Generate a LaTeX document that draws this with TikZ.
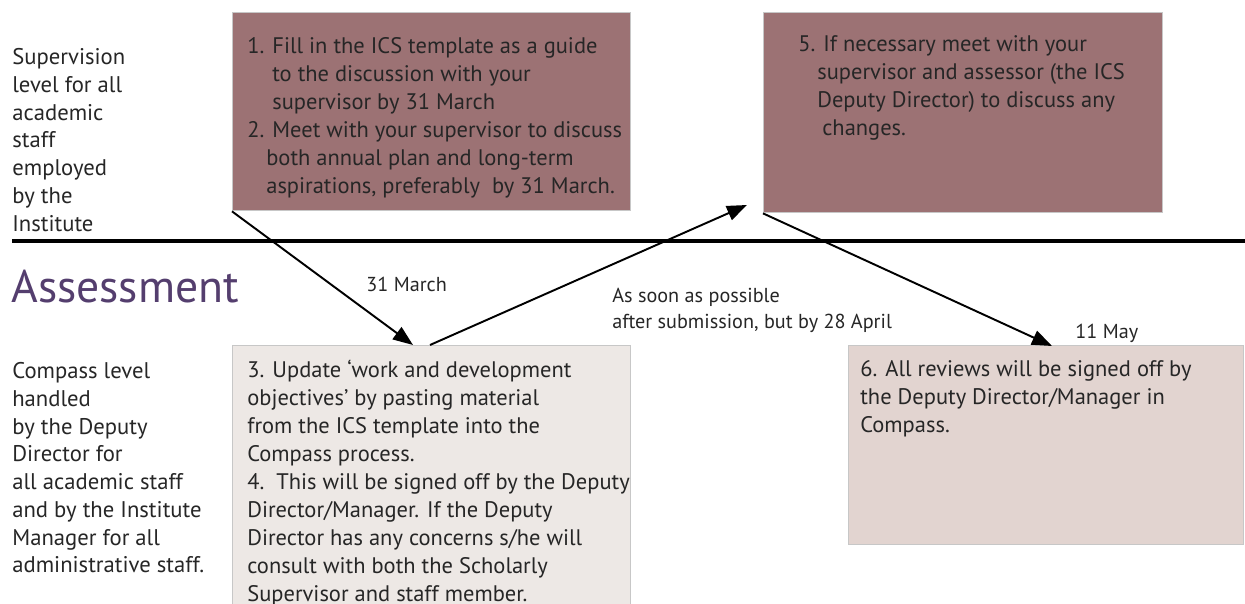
\documentclass[tikz,border=0pt]{standalone}
\usepackage{fontspec}
\setmainfont{PT Sans}
\usetikzlibrary{positioning}
\usetikzlibrary{arrows.meta}

\definecolor{mauve}{RGB}{156,114,116}
\definecolor{paleGrey}{RGB}{237,232,229}
\definecolor{paleRose}{RGB}{226,212,208}
\definecolor{assessPurple}{RGB}{84,62,110}

\begin{document}
\begin{tikzpicture}[x=0.02cm, y=-0.02cm,
    TopBox/.style={rectangle, draw=black!22, fill=mauve, line width=0.8pt, anchor=north west, inner sep=0pt},
    LowBox/.style={rectangle, draw=black!22, line width=0.8pt, anchor=north west, inner sep=0pt},
    BoxText/.style={anchor=north west, align=left, inner sep=0pt, text=black!85, font=\fontsize{12.8}{15.9}\selectfont},
    SideText/.style={anchor=north west, align=left, inner sep=0pt, text=black!85, font=\fontsize{12.9}{15.8}\selectfont},
    DateText/.style={anchor=west, align=left, inner sep=0pt, text=black!85, font=\fontsize{11.5}{14.7}\selectfont},
    Flow/.style={-{Triangle[length=4mm, width=3mm]}, line width=1.1pt}]

    \useasboundingbox (0,0) rectangle (1245,604);

    % boxes
    \node[TopBox, minimum width=7.96cm, minimum height=3.96cm] (plan) at (232,12) {};
    \node[TopBox, minimum width=7.98cm, minimum height=4.0cm] (meet) at (763,12) {};
    \node[LowBox, fill=paleGrey, minimum width=7.96cm, minimum height=5.6cm] (update) at (232,345) {};
    \node[LowBox, fill=paleRose, minimum width=7.9cm, minimum height=3.98cm] (signoff) at (848,345) {};

    % box texts
    \node[BoxText, below right=0.5cm and 0.3cm of plan.north west] (planText)
        {1. Fill in the ICS template as a guide\\
         \hspace{0.5cm}to the discussion with your\\
         \hspace{0.5cm}supervisor by 31 March\\
         2. Meet with your supervisor to discuss\\
         \hspace{0.38cm}both annual plan and long-term\\
         \hspace{0.38cm}aspirations, preferably\ \ by 31 March.};
    \node[BoxText, below right=0.46cm and 0.7cm of meet.north west] (meetText)
        {5. If necessary meet with your\\
         \hspace{0.38cm}supervisor and assessor (the ICS\\
         \hspace{0.38cm}Deputy Director) to discuss any\\
         \hspace{0.48cm}changes.};
    \node[BoxText, below right=0.3cm and 0.3cm of update.north west] (updateText)
        {3. Update `work and development\\
         objectives' by pasting material\\
         from the ICS template into the\\
         Compass process.\\
         4.\ \ This will be signed off by the Deputy\\
         Director/Manager. If the Deputy\\
         Director has any concerns s/he will\\
         consult with both the Scholarly\\
         Supervisor and staff member.};
    \node[BoxText, below right=0.3cm and 0.24cm of signoff.north west] (signoffText)
        {6. All reviews will be signed off by\\
         the Deputy Director/Manager in\\
         Compass.};

    % level descriptions
    \node[SideText] (supLevel) at (12,48)
        {Supervision\\ level for all\\ academic\\ staff\\ employed\\ by the\\ Institute};
    \node[SideText] (compLevel) at (12,362)
        {Compass level\\ handled\\ by the Deputy\\ Director for\\ all academic staff\\
         and by the Institute\\ Manager for all\\ administrative staff.};

    \node[anchor=west, inner sep=0pt, text=assessPurple, font=\fontsize{26}{28}\selectfont] (assess) at (11,287) {Assessment};

    % separator
    \coordinate (sepL) at (12,241);
    \coordinate (sepR) at (1245,241);
    \draw[line width=1.8pt] (sepL) -- (sepR);

    % dates
    \node[DateText] (marchDate) at (366,284) {31 March};
    \node[DateText] (aprilDate) at (612,310) {As soon as possible\\after submission, but by 28 April};
    \node[DateText] (mayDate) at (1075,333) {11 May};

    % flow
    \coordinate (in3) at (413,345);
    \coordinate (out3) at (430,345);
    \coordinate (in5) at (747,205);
    \coordinate (in6) at (1052,346);
    \draw[Flow] (plan.south west) -- (in3);
    \draw[Flow] (out3) -- (in5);
    \draw[Flow] (meet.south west) -- (in6);
\end{tikzpicture}
\end{document}
